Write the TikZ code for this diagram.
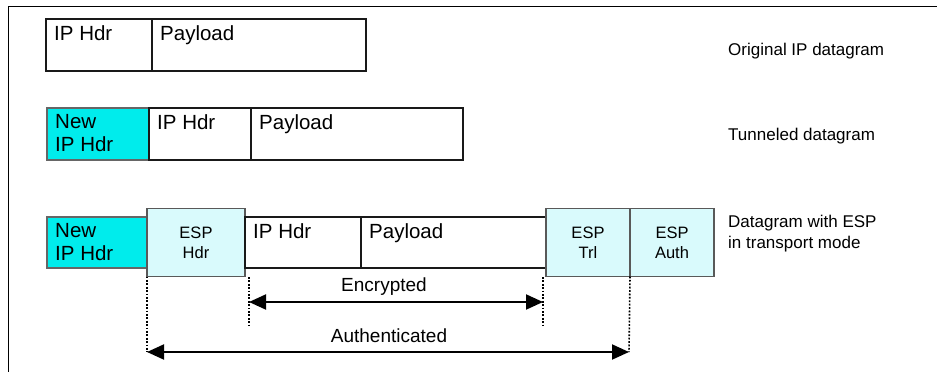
\documentclass[tikz,border=0pt]{standalone}
\usepackage{fontspec}
\setmainfont{Liberation Sans}
\usetikzlibrary{arrows.meta, positioning}
\definecolor{HdrCyan}{RGB}{0,236,236}
\definecolor{EspCyan}{RGB}{217,250,252}

\begin{document}
\begin{tikzpicture}[
  x=1pt, y=-1pt,
  cell/.style={draw=black!90, line width=1.2pt, inner sep=0pt, outer sep=0pt, minimum height=52pt},
  newhdr/.style={cell, fill=HdrCyan, draw=black!60},
  espcell/.style={cell, fill=EspCyan, draw=black!65, minimum height=68pt, align=center, font=\fontsize{16.5}{20}\selectfont},
  celltxt/.style={anchor=north west, inner xsep=8pt, inner ysep=6.5pt, font=\fontsize{20.5}{23}\selectfont, align=left},
  celllabel/.style={label={[celltxt]north west:#1}},
  side/.style={anchor=base west, inner sep=0pt, font=\fontsize{17}{21}\selectfont, align=left},
  dimtxt/.style={anchor=base, inner sep=0pt, font=\fontsize{19}{22}\selectfont},
  guide/.style={line width=1.6pt, dash pattern=on 1.8pt off 1.6pt},
  dimarr/.style={line width=2pt, {Triangle[length=17pt, width=15pt]}-{Triangle[length=17pt, width=15pt]}}
]
  \useasboundingbox (0,0) rectangle (937,372);
  \draw[line width=1pt] (8,372) -- (8,6) -- (937,6);

  % Original datagram
  \node[cell, celllabel={IP Hdr}, minimum width=106pt, anchor=north west] (o1hdr) at (46,19) {};
  \node[cell, celllabel={Payload}, minimum width=214pt, right=0pt of o1hdr] (o1pay) {};
  \node[side] (lblorig) at (728,55) {Original IP datagram};

  % Tunneled datagram
  \node[newhdr, celllabel={New\\IP Hdr}, minimum width=102pt, anchor=north west] (t2new) at (47,108) {};
  \node[cell, celllabel={IP Hdr}, minimum width=102pt, right=0pt of t2new] (t2hdr) {};
  \node[cell, celllabel={Payload}, minimum width=212pt, right=0pt of t2hdr] (t2pay) {};
  \node[side] (lbltun) at (728,140) {Tunneled datagram};

  % ESP datagram
  \node[newhdr, celllabel={New\\IP Hdr}, minimum width=100pt, minimum height=51pt, anchor=north west] (e3new) at (47,217) {};
  \node[espcell, minimum width=98pt, right=0pt of e3new] (e3hdr) {ESP\\Hdr};
  \node[cell, celllabel={IP Hdr}, minimum width=116pt, minimum height=51pt, right=0pt of e3hdr] (e3ip) {};
  \node[cell, celllabel={Payload}, minimum width=185pt, minimum height=51pt, right=0pt of e3ip] (e3pay) {};
  \node[espcell, minimum width=84pt, right=0pt of e3pay] (e3trl) {ESP\\Trl};
  \node[espcell, minimum width=84pt, right=0pt of e3trl] (e3auth) {ESP\\Auth};
  \node[side, anchor=north west] (lblesp) at (728,215) {Datagram with ESP\\in transport mode};

  % Ranges
  \coordinate (encL) at (249,302);
  \coordinate (encR) at (543,302);
  \coordinate (authL) at (147,352);
  \coordinate (authR) at (629,352);
  \draw[guide] (e3hdr.south west) -- (authL);
  \draw[guide] (e3trl.south east) -- (authR);
  \draw[guide] ([yshift=25pt]encL) -- ([yshift=-23pt]encL);
  \draw[guide] ([yshift=25pt]encR) -- ([yshift=-23pt]encR);
  \draw[dimarr] (encL) -- (encR);
  \draw[dimarr] (authL) -- (authR);
  \node[dimtxt] (lblenc) at (384,291) {Encrypted};
  \node[dimtxt] (lblauth) at (389,342) {Authenticated};
\end{tikzpicture}
\end{document}
